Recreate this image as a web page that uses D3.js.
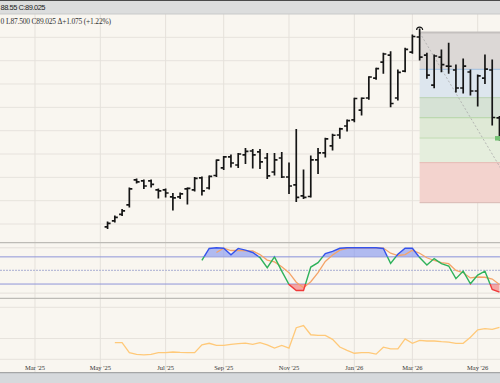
<!DOCTYPE html>
<html>
<head>
<meta charset="utf-8">
<script src="https://cdn.jsdelivr.net/npm/d3@7"></script>
<style>
    body { margin: 0; background: #fff; }
    svg { display: block; }
</style>
</head>
<body>
<svg id="chart" width="500" height="383"></svg>
<script>
// weekly OHLC bars, first bar is the week of 2025-05-12
var firstWeek = "2025-05-12"

var opens = [81.75, 82.27, 82.82, 83.64, 85.78, 85.69, 85.69, 84.92, 84.92, 84.32,
    84.32, 85.01, 84.92, 85.95, 85.09, 86.16, 86.81, 87.75, 87.06, 87.92,
    88.26, 88.18, 87.66, 86.46, 87.66, 86.03, 85.35, 84.41, 84.36, 87.49,
    88.09, 88.69, 89.63, 90.40, 90.92, 91.77, 92.80, 94.51, 95.88, 96.48,
    92.80, 95.11, 96.74, 98.03, 96.48, 93.91, 96.31, 95.54, 95.20, 93.66,
    95.03, 93.40, 94.51, 95.20, 91.09]
var highs = [82.18, 82.69, 83.25, 85.09, 85.86, 85.78, 85.78, 85.01, 85.01, 84.62,
    84.66, 85.09, 85.99, 86.03, 86.12, 87.49, 87.79, 87.92, 88.05, 88.48,
    88.39, 88.39, 88.05, 88.05, 88.13, 87.23, 90.10, 86.63, 87.83, 88.48,
    89.35, 89.69, 90.21, 90.92, 92.78, 92.80, 94.63, 95.34, 96.63, 96.77,
    95.20, 97.06, 98.20, 98.71, 96.63, 96.48, 96.91, 97.49, 95.63, 96.14,
    95.20, 94.77, 96.48, 96.06, 91.22]
var lows = [81.62, 82.18, 82.74, 83.46, 85.52, 85.05, 85.18, 84.24, 84.32, 83.21,
    84.19, 83.72, 84.84, 84.49, 85.01, 86.08, 86.68, 86.89, 86.85, 87.19,
    86.81, 86.76, 85.91, 86.21, 85.99, 84.62, 83.94, 84.19, 84.32, 86.33,
    87.75, 88.35, 89.35, 89.97, 90.77, 91.34, 92.69, 94.40, 94.92, 92.06,
    92.63, 95.05, 96.63, 96.06, 94.49, 93.68, 95.05, 94.92, 93.31, 93.23,
    93.06, 92.12, 94.04, 90.49, 89.20]
var closes = [82.05, 82.57, 83.12, 85.01, 85.61, 85.26, 85.39, 84.84, 84.66, 84.24,
    84.58, 85.05, 85.91, 84.84, 86.08, 87.47, 87.75, 87.23, 88.00, 88.22,
    87.92, 87.32, 86.12, 87.49, 86.03, 85.26, 84.28, 84.28, 87.49, 88.09,
    89.29, 89.61, 90.15, 90.87, 92.76, 92.78, 94.60, 95.32, 96.57, 92.33,
    94.99, 96.96, 98.07, 96.31, 94.77, 96.40, 95.66, 95.52, 93.66, 95.54,
    93.40, 94.69, 95.28, 91.13, 89.37]

// stochastics: %K starts on bar 13, %D on bar 15
var kStart = 13
var stochK = [72.4, 98.6, 100, 99, 84.5, 98.6, 94.8, 89.7, 78.4, 56,
    80, 48.5, 19, 5.8, 5.8, 57.5, 67.2, 87.4, 92, 99,
    100, 100, 100, 100, 100, 98.6, 65.6, 85.8, 99, 99,
    78.4, 62, 76.2, 65, 59.8, 31.9, 48.5, 20.5, 39.6, 48.5,
    8, 2]
var dStart = 15
var stochD = [89.7, 99, 94, 94.5, 93.5, 93, 85, 73, 69, 58,
    45, 24, 12, 25, 45, 70, 84, 94.8, 99, 100,
    100, 100, 100, 99.5, 88, 83, 85, 94.5, 88, 78,
    72, 67.5, 65, 50, 45, 33.5, 35.5, 35, 31, 19]

// lower study line, starts on bar 1
var lowerStart = 1
var lowerVals = [13.0, 13.0, 8.2, 7.4, 7.1, 7.4, 8.2, 8.2, 8.5, 8.3,
    8.2, 8.2, 12.0, 12.7, 11.7, 11.7, 12.2, 12.5, 12.8, 12.2,
    13.0, 11.9, 10.4, 11.7, 10.4, 20.2, 21.2, 16.8, 16.5, 16.5,
    14.6, 10.9, 9.3, 7.9, 8.2, 8.2, 7.5, 10.8, 10.0, 10.0,
    14.8, 12.7, 14.1, 13.8, 13.8, 13.5, 13.3, 12.7, 12.7, 15.6,
    19.2, 19.7, 19.4, 20.4]
var lowerTicks = [5, 15, 30]

// retracement drawing from the top (bar 43) to the right
var fibStartBar = 43, fibEndBar = 57
var fibLevels = [98.41, 95.26, 92.83, 91.11, 89.37, 87.26, 83.83]
var fibFills = ["#dcd8d6", "#dde6ee", "#d6e2d5", "#dfe9d6", "#e5eedd", "#f3d3ce"]
var fibLines = ["#c4c0be", "#9fbfe0", "#b9d1b5", "#b3d4a4", "#c2dcb3", "#e6bab4", "#d8b8b3"]

var tickMonths = ["2025-03", "2025-05", "2025-07", "2025-09", "2025-11", "2026-01", "2026-03", "2026-05"]

var svg = d3.select("#chart")
var W = 500
var mainTop = 14, mainBottom = 242.7
var stochBottom = 298.3, lowBottom = 372.7

var parseDay = d3.timeParse("%Y-%m-%d")
var parseMonth = d3.timeParse("%Y-%m")
var start = parseDay(firstWeek)
var dates = opens.map(function(d, i) { return d3.timeWeek.offset(start, i) })

var x = d3.scaleTime()
    .domain([parseDay("2025-03-03"), parseDay("2026-05-04")])
    .range([35, 477.7])

var yP = d3.scaleLinear().domain([80.4, 100]).range([mainBottom, mainTop])
var yS = d3.scaleLinear().domain([0, 100]).range([293.1, 247.8])
var yL = d3.scaleLinear().domain([5, 30]).range([359.3, 307.3])

// background
svg.append("rect").attr("width", W).attr("height", 383).attr("fill", "#f9f6f0")

var defs = svg.append("defs")
function clip(id, y0, y1) {
    defs.append("clipPath").attr("id", id)
        .append("rect").attr("x", 0).attr("y", y0).attr("width", W).attr("height", y1 - y0)
}
clip("clipMain", mainTop, mainBottom)
clip("clipHi", 0, yS(80))
clip("clipMid", yS(80), yS(20))
clip("clipLo", yS(20), 383)

// horizontal grid
svg.append("g").selectAll("line")
    .data(d3.range(82, 100, 2))
    .enter().append("line")
    .attr("x1", 0).attr("x2", W)
    .attr("y1", function(d) { return yP(d) })
    .attr("y2", function(d) { return yP(d) })
    .style("stroke", "#e7e3dd").style("stroke-width", 1)

svg.append("g").selectAll("line")
    .data([0, 100])
    .enter().append("line")
    .attr("x1", 0).attr("x2", W)
    .attr("y1", function(d) { return yS(d) })
    .attr("y2", function(d) { return yS(d) })
    .style("stroke", "#e4e0da").style("stroke-width", 1)

svg.append("g").selectAll("line")
    .data(lowerTicks)
    .enter().append("line")
    .attr("x1", 0).attr("x2", W)
    .attr("y1", function(d) { return yL(d) })
    .attr("y2", function(d) { return yL(d) })
    .style("stroke", "#e7e3dd").style("stroke-width", 1)

// vertical grid on first monday of the month
var tickDates = tickMonths.map(function(m) { return d3.timeMonday.ceil(parseMonth(m)) })
svg.append("g").selectAll("line")
    .data(tickDates)
    .enter().append("line")
    .attr("x1", function(d) { return x(d) })
    .attr("x2", function(d) { return x(d) })
    .attr("y1", mainTop).attr("y2", lowBottom)
    .style("stroke", "#e5e1db").style("stroke-width", 1)

// retracement bands
var main = svg.append("g").attr("clip-path", "url(#clipMain)")
var fx0 = x(dates[fibStartBar]), fx1 = x(d3.timeWeek.offset(start, fibEndBar))

main.selectAll(".fib-band")
    .data(fibFills)
    .enter().append("rect")
    .attr("class", "fib-band")
    .attr("x", fx0).attr("width", W - fx0)
    .attr("y", function(d, i) { return yP(fibLevels[i]) })
    .attr("height", function(d, i) { return yP(fibLevels[i + 1]) - yP(fibLevels[i]) })
    .style("fill", function(d) { return d })

main.selectAll(".fib-line")
    .data(fibLevels)
    .enter().append("line")
    .attr("class", "fib-line")
    .attr("x1", fx0).attr("x2", W)
    .attr("y1", function(d) { return yP(d) })
    .attr("y2", function(d) { return yP(d) })
    .style("stroke", function(d, i) { return fibLines[i] })
    .style("stroke-width", function(d, i) { return i == 0 ? 2 : 1 })

main.append("line")
    .attr("x1", fx0).attr("y1", yP(fibLevels[0]))
    .attr("x2", fx1).attr("y2", yP(fibLevels[fibLevels.length - 1]))
    .style("stroke", "#a9a9a9").style("stroke-width", 0.8)
    .style("stroke-dasharray", "2,2")

// ohlc bars
var bar = main.selectAll(".bar")
    .data(dates)
    .enter().append("g")
    .attr("class", "bar")
    .attr("transform", function(d) { return "translate(" + x(d) + ",0)" })
    .style("stroke", "#151515").style("stroke-width", 1.7)

bar.append("line")
    .attr("x1", 0).attr("x2", 0)
    .attr("y1", function(d, i) { return yP(highs[i]) - 0.5 })
    .attr("y2", function(d, i) { return yP(lows[i]) + 0.5 })
bar.append("line")
    .attr("x1", -3).attr("x2", 0)
    .attr("y1", function(d, i) { return yP(opens[i]) })
    .attr("y2", function(d, i) { return yP(opens[i]) })
bar.append("line")
    .attr("x1", 0).attr("x2", 3)
    .attr("y1", function(d, i) { return yP(closes[i]) })
    .attr("y2", function(d, i) { return yP(closes[i]) })

// handle on the top of the drawing
var hx = x(dates[fibStartBar]), hy = yP(highs[fibStartBar]) + 1
main.append("path")
    .attr("d", "M" + (hx - 3) + "," + hy + " A3,3 0 0 1 " + (hx + 3) + "," + hy)
    .style("fill", "none").style("stroke", "#151515").style("stroke-width", 1.2)

// last price tag
main.append("rect")
    .attr("x", 495).attr("y", yP(closes[closes.length - 1]) - 2)
    .attr("width", 8).attr("height", 4.5)
    .style("fill", "#74c274")

// panel separators
svg.selectAll(".sep")
    .data([mainBottom, stochBottom])
    .enter().append("line")
    .attr("class", "sep")
    .attr("x1", 0).attr("x2", W)
    .attr("y1", function(d) { return d })
    .attr("y2", function(d) { return d })
    .style("stroke", "#bdbbb6").style("stroke-width", 1.3)

// stochastics levels
svg.selectAll(".lvl")
    .data([80, 20])
    .enter().append("line")
    .attr("class", "lvl")
    .attr("x1", 0).attr("x2", W)
    .attr("y1", function(d) { return yS(d) })
    .attr("y2", function(d) { return yS(d) })
    .style("stroke", "#8f95d8").style("stroke-width", 1)

svg.append("line")
    .attr("x1", 0).attr("x2", W)
    .attr("y1", yS(50)).attr("y2", yS(50))
    .style("stroke", "#b9bcd8").style("stroke-width", 1.2)
    .style("stroke-dasharray", "2,1")

var kPts = stochK.map(function(v, i) { return [x(dates[kStart + i]), yS(v)] })
var dPts = stochD.map(function(v, i) { return [x(dates[dStart + i]), yS(v)] })

var fillHi = d3.area()
    .x(function(d) { return d[0] })
    .y0(yS(80))
    .y1(function(d) { return d[1] })
var fillLo = d3.area()
    .x(function(d) { return d[0] })
    .y0(yS(20))
    .y1(function(d) { return d[1] })
var line = d3.line()

svg.append("path").attr("d", fillHi(kPts)).attr("clip-path", "url(#clipHi)")
    .style("fill", "#8294f0").style("opacity", 0.62)
svg.append("path").attr("d", fillLo(kPts)).attr("clip-path", "url(#clipLo)")
    .style("fill", "#f26f6f").style("opacity", 0.6)

svg.append("path").attr("d", line(dPts))
    .style("fill", "none").style("stroke", "#f5a468").style("stroke-width", 1.3)

var kColors = [["clipHi", "#3452ec"], ["clipMid", "#2fb25b"], ["clipLo", "#f03a3a"]]
kColors.forEach(function(c) {
    svg.append("path").attr("d", line(kPts)).attr("clip-path", "url(#" + c[0] + ")")
        .style("fill", "none").style("stroke", c[1]).style("stroke-width", 1.4)
})

// lower study
var lowerLine = d3.line()
    .x(function(d, i) { return x(dates[lowerStart + i]) })
    .y(function(d) { return yL(d) })
svg.append("path").attr("d", lowerLine(lowerVals))
    .style("fill", "none").style("stroke", "#ffc979").style("stroke-width", 1.3)

// month labels
var fmt = d3.timeFormat("%b '%y")
svg.selectAll(".tick-label")
    .data(tickDates)
    .enter().append("text")
    .attr("class", "tick-label")
    .attr("x", function(d) { return x(d) })
    .attr("y", 369.5)
    .attr("text-anchor", "middle")
    .style("font-family", "'Liberation Serif', serif")
    .style("font-size", "6.5px")
    .style("fill", "#333")
    .text(function(d) { return fmt(d) })

// bottom bar
svg.append("rect").attr("x", 0).attr("y", lowBottom).attr("width", W).attr("height", 383 - lowBottom)
    .style("fill", "#d6d9dc")
svg.append("line").attr("x1", 0).attr("x2", W).attr("y1", lowBottom).attr("y2", lowBottom)
    .style("stroke", "#a5a6a6").style("stroke-width", 1.2)

// header
svg.append("rect").attr("width", W).attr("height", mainTop).style("fill", "#dcdddd")
svg.append("line").attr("x1", 0).attr("x2", W).attr("y1", 0.5).attr("y2", 0.5)
    .style("stroke", "#4a4a4a")
svg.append("line").attr("x1", 0).attr("x2", W).attr("y1", mainTop).attr("y2", mainTop)
    .style("stroke", "#c9c9c9")

svg.append("text").attr("x", 0.5).attr("y", 10)
    .attr("textLength", 45)
    .style("font-family", "'Liberation Sans', sans-serif")
    .style("font-size", "7.5px").style("fill", "#222")
    .text("88.55 C:89.025")

svg.append("text").attr("x", 0.5).attr("y", 24)
    .style("font-family", "'Liberation Serif', serif")
    .style("font-size", "7.5px").style("fill", "#333")
    .text("0")
svg.append("text").attr("x", 6).attr("y", 24)
    .attr("textLength", 105)
    .style("font-family", "'Liberation Serif', serif")
    .style("font-size", "7.5px").style("fill", "#333")
    .text("L87.500 C89.025 \u0394+1.075 (+1.22%)")
</script>
</body>
</html>
